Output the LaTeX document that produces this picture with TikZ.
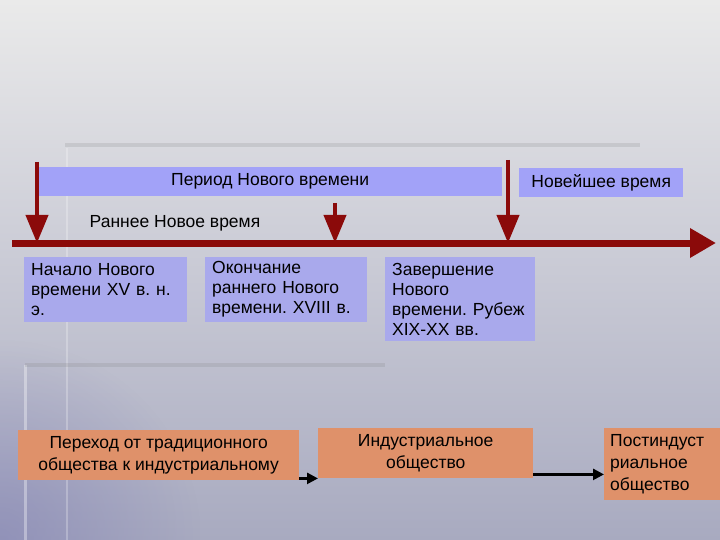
\documentclass[tikz,border=0pt]{standalone}
\usepackage{fontspec}
\setmainfont{Liberation Sans}
\usetikzlibrary{arrows.meta,positioning,fadings}
\definecolor{epochred}{HTML}{8B0A0A}
\definecolor{periodblue}{HTML}{A2A2F8}
\definecolor{notebblue}{HTML}{A9A9EC}
\definecolor{stageorange}{HTML}{DF916A}
\definecolor{bgtop}{HTML}{EAEAEA}
\definecolor{bgbottom}{HTML}{A8AAC0}
\definecolor{bgleft}{HTML}{8282B4}
\tikzfading[name=cornerfade,inner color=transparent!0,outer color=transparent!100]
\tikzset{
  period/.style={fill=periodblue,inner sep=0pt,font=\fontsize{17.5}{20}\selectfont},
  note/.style={fill=notebblue,anchor=north west,align=left,inner xsep=7pt,inner ysep=3pt,
    font=\fontsize{17.5}{20}\selectfont},
  stage/.style={fill=stageorange,align=center,inner sep=3pt,
    font=\fontsize{17.5}{22}\selectfont},
  marker/.style={epochred,line width=4pt,-{Triangle[length=28pt,width=22pt]}},
  link/.style={black,line width=2.5pt,-{Triangle[length=11pt,width=11pt]}}
}
\begin{document}
\frenchspacing
\begin{tikzpicture}[x=1pt,y=-1pt]
  % background
  \shade[top color=bgtop,bottom color=bgbottom] (0,0) rectangle (720,540);
  \useasboundingbox (0,0) rectangle (720,540);
  \fill[bgleft,opacity=0.6,path fading=cornerfade] (-200,340) rectangle (200,740);
  % template lines
  \draw[white,opacity=0.35,line width=3pt] (25,365) -- (25,540);
  \draw[white,opacity=0.25,line width=2pt] (67,148) -- (67,540);
  \draw[gray,opacity=0.2,line width=4pt] (65,145) -- (640,145);
  \draw[gray,opacity=0.2,line width=4pt] (25,365) -- (385,365);

  % periods
  \node[period,minimum width=464pt,minimum height=29pt,anchor=north west] (modern) at (38,167) {Период Нового времени};
  \node[period,minimum width=164pt,minimum height=29pt,anchor=north west] (newest) at (519,168) {Новейшее время};
  \node[font=\fontsize{17.5}{20}\selectfont] (early) at (175,223) {Раннее Новое время};

  % time axis
  \coordinate (axis start) at (12,243);
  \coordinate (axis end) at (716,243);
  \draw[epochred,line width=7pt,-{Triangle[length=26pt,width=28pt]}] (axis start) -- (axis end);
  \coordinate (m1) at (37,162);
  \coordinate (m2) at (335,203);
  \coordinate (m3) at (508,160);
  \draw[marker] (m1) -- (37,243);
  \draw[marker] (m2) -- (335,243);
  \draw[marker] (m3) -- (508,243);

  % notes
  \node[note,text width=149pt,minimum height=65pt] (begin) at (24,257) {Начало Нового\\времени XV в. н.\\э.};
  \node[note,text width=148pt,minimum height=65pt] (endearly) at (205,257) {Окончание\\раннего Нового\\времени. XVIII в.};
  \node[note,text width=136pt,minimum height=84pt] (finish) at (385,257) {Завершение\\Нового\\времени. Рубеж\\XIX-XX вв.};

  % stages
  \node[stage,minimum width=281pt,minimum height=50pt,anchor=north west] (transit) at (18,430) {Переход от традиционного\\общества к индустриальному};
  \node[stage,minimum width=215pt,minimum height=50pt,anchor=north west] (industry) at (318,428) {Индустриальное\\общество};
  \node[stage,minimum width=116pt,minimum height=72pt,anchor=north west,align=left,text width=104pt,inner xsep=6pt] (postind) at (604,428) {Постиндуст\\риальное\\общество};
  \draw[link] ([yshift=2pt]transit.south east) -- ([yshift=2pt]transit.south east -| industry.west);
  \draw[link] ([yshift=4pt]industry.south east) -- ([yshift=4pt]industry.south east -| postind.west);
\end{tikzpicture}
\end{document}
